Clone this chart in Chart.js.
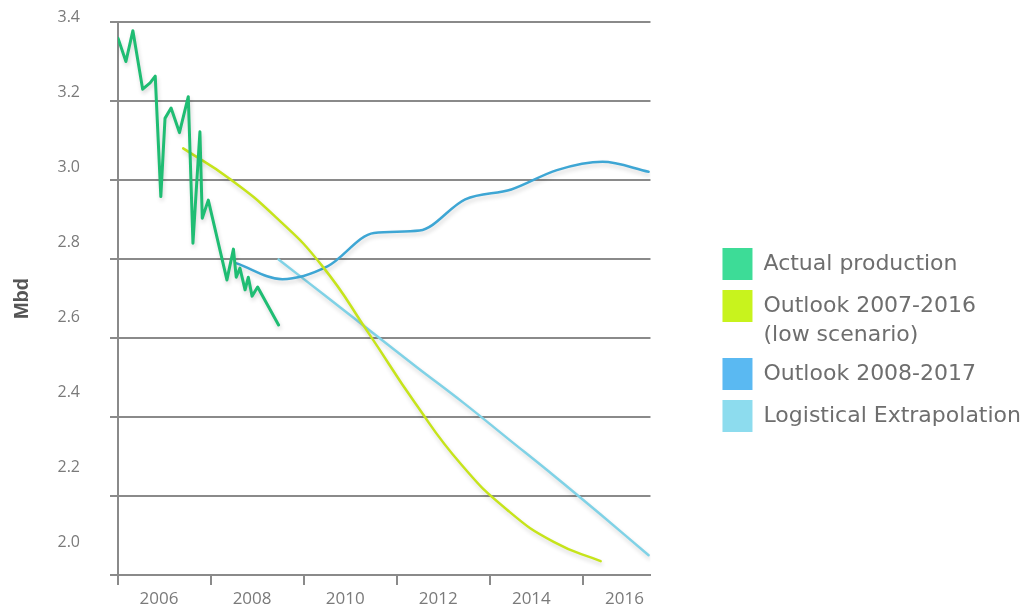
<!DOCTYPE html>
<html>
<head>
<meta charset="utf-8">
<script src="https://cdn.jsdelivr.net/npm/chart.js@4.4.1/dist/chart.umd.min.js"></script>
<style>
  html, body { margin: 0; padding: 0; background: #ffffff; }
  #wrap { width: 1032px; height: 610px; }
</style>
</head>
<body>
<div id="wrap"><canvas id="chart" width="1032" height="610"></canvas></div>
<script>
// ---- Data ----
const seriesNames = [
  'Actual production',
  ['Outlook 2007-2016', '(low scenario)'],
  'Outlook 2008-2017',
  'Logistical Extrapolation'
];

// Actual production (monthly-ish vertices), Mbd
const actualYears = [2006.00, 2006.17, 2006.32, 2006.53, 2006.69, 2006.80, 2006.92, 2007.01,
  2007.14, 2007.32, 2007.51, 2007.61, 2007.76, 2007.81, 2007.94, 2008.34, 2008.48, 2008.54,
  2008.62, 2008.73, 2008.80, 2008.88, 2009.00, 2009.45];
const actualValues = [3.359, 3.300, 3.378, 3.230, 3.246, 3.263, 2.958, 3.156,
  3.182, 3.120, 3.211, 2.840, 3.122, 2.903, 2.949, 2.747, 2.825, 2.754,
  2.777, 2.722, 2.754, 2.706, 2.729, 2.633];

// Outlook 2007-2016 (low scenario)
const outlook07Years = [2007.40, 2008.39, 2009.39, 2010.39, 2011.38, 2012.38, 2013.38, 2014.37, 2015.37, 2016.37];
const outlook07Values = [3.080, 3.004, 2.906, 2.782, 2.613, 2.436, 2.279, 2.164, 2.083, 2.035];

// Outlook 2008-2017
const outlook08Years = [2008.55, 2009.53, 2010.51, 2011.50, 2012.48, 2013.46, 2014.45, 2015.43, 2016.41, 2017.40];
const outlook08Values = [2.789, 2.749, 2.782, 2.866, 2.872, 2.951, 2.976, 3.025, 3.046, 3.021];

// Logistical Extrapolation
const logisticYears = [2009.45, 2010.44, 2011.43, 2012.42, 2013.41, 2014.39, 2015.38, 2016.37, 2017.40];
const logisticValues = [2.799, 2.708, 2.617, 2.526, 2.437, 2.344, 2.250, 2.153, 2.050];

// Axis ticks
const xTickYears = [2006, 2008, 2010, 2012, 2014, 2016];
const yTickValues = [2.0, 2.2, 2.4, 2.6, 2.8, 3.0, 3.2, 3.4];
const yAxisTitle = 'Mbd';

// ---- Styles ----
const lineColors = ['#1fbd73', '#c6e41b', '#3ea6d4', '#80d2e6'];
const legendColors = ['#3ddc97', '#c8f31d', '#5ab9f2', '#8ddcee'];
const lineWidths = [3, 2.5, 2.5, 2.5];
const gridColor = '#8a8a8a';
const tickColor = '#7a7a7a';

const toPoints = (xs, ys) => xs.map((x, i) => ({ x: x, y: ys[i] }));

const datasets = [
  { data: toPoints(actualYears, actualValues), tension: 0 },
  { data: toPoints(outlook07Years, outlook07Values), tension: 0.5 },
  { data: toPoints(outlook08Years, outlook08Values), cubicInterpolationMode: 'monotone' },
  { data: toPoints(logisticYears, logisticValues), tension: 0.4 }
].map((d, i) => Object.assign(d, {
  label: Array.isArray(seriesNames[i]) ? seriesNames[i].join(' ') : seriesNames[i],
  borderColor: lineColors[i],
  backgroundColor: legendColors[i],
  borderWidth: lineWidths[i],
  pointRadius: 0,
  pointHoverRadius: 0,
  fill: false,
  borderCapStyle: 'round',
  borderJoinStyle: 'round'
}));

const shadowPlugin = {
  id: 'lineShadow',
  beforeDatasetDraw(chart) {
    const c = chart.ctx;
    c.save();
    c.shadowColor = 'rgba(0,0,0,0.16)';
    c.shadowBlur = 4;
    c.shadowOffsetX = 1;
    c.shadowOffsetY = 3;
  },
  afterDatasetDraw(chart) {
    chart.ctx.restore();
  }
};

new Chart(document.getElementById('chart').getContext('2d'), {
  type: 'line',
  data: { datasets: datasets },
  plugins: [shadowPlugin],
  options: {
    responsive: false,
    animation: false,
    devicePixelRatio: 1,
    layout: { padding: { top: 22, right: 1, bottom: 0, left: 0 } },
    plugins: {
      tooltip: { enabled: false },
      legend: {
        position: 'right',
        align: 'center',
        maxWidth: 420,
        title: { display: true, text: '', padding: 0, font: { size: 10, lineHeight: '48px' } },
        labels: {
          boxWidth: 30,
          boxHeight: 32,
          padding: 10,
          color: '#6e6e6e',
          font: { family: 'DejaVu Sans', size: 22, lineHeight: '29px' },
          generateLabels(chart) {
            const items = Chart.defaults.plugins.legend.labels.generateLabels(chart);
            items.forEach((it, i) => {
              it.text = seriesNames[i];
              it.fillStyle = legendColors[i];
              it.strokeStyle = legendColors[i];
              it.lineWidth = 0;
            });
            return items;
          }
        }
      }
    },
    scales: {
      x: {
        type: 'linear',
        position: 'bottom',
        min: 2006,
        max: 2017.44,
        border: { display: true, color: gridColor, width: 2 },
        grid: { display: true, drawOnChartArea: false, drawTicks: true, tickLength: 10, color: gridColor, lineWidth: 2 },
        ticks: {
          color: tickColor,
          font: { family: 'Open Sans', size: 17 },
          labelOffset: 41,
          padding: 4,
          maxRotation: 0,
          autoSkip: false,
          callback: (v) => String(v)
        },
        afterBuildTicks(s) { s.ticks = xTickYears.map(v => ({ value: v })); },
        afterFit(s) { s.height = 35; }
      },
      y: {
        type: 'linear',
        position: 'left',
        weight: 0,
        min: 2.0,
        max: 3.4,
        border: { display: true, color: gridColor, width: 2 },
        grid: { display: true, color: gridColor, lineWidth: 2, drawTicks: true, tickLength: 8 },
        ticks: { display: false },
        afterBuildTicks(s) { s.ticks = yTickValues.map(v => ({ value: v })); },
        afterFit(s) { s.width = 8; s.paddingTop = 0; s.paddingBottom = 0; }
      },
      yLabels: {
        type: 'linear',
        position: 'left',
        weight: 1,
        min: 1.9131,
        max: 3.3885,
        border: { display: false },
        grid: { display: false, drawTicks: true, tickLength: 30 },
        ticks: {
          display: true,
          padding: 0,
          color: tickColor,
          font: { family: 'Open Sans', size: 16 },
          autoSkip: false,
          callback: (v) => Number(v).toFixed(1)
        },
        title: {
          display: true,
          text: yAxisTitle,
          color: '#555555',
          font: { family: 'Liberation Sans', size: 20, weight: 'bold' },
          padding: { top: 10, bottom: 0 }
        },
        afterBuildTicks(s) { s.ticks = yTickValues.map(v => ({ value: v })); },
        afterFit(s) { s.width = 110; s.paddingTop = 0; s.paddingBottom = 0; }
      },
      ySpacer: {
        type: 'linear',
        position: 'right',
        min: 0,
        max: 1,
        border: { display: false },
        grid: { display: false, drawTicks: false },
        ticks: { display: false },
        afterFit(s) { s.width = 62; s.paddingTop = 0; s.paddingBottom = 0; }
      }
    }
  }
});
</script>
</body>
</html>
